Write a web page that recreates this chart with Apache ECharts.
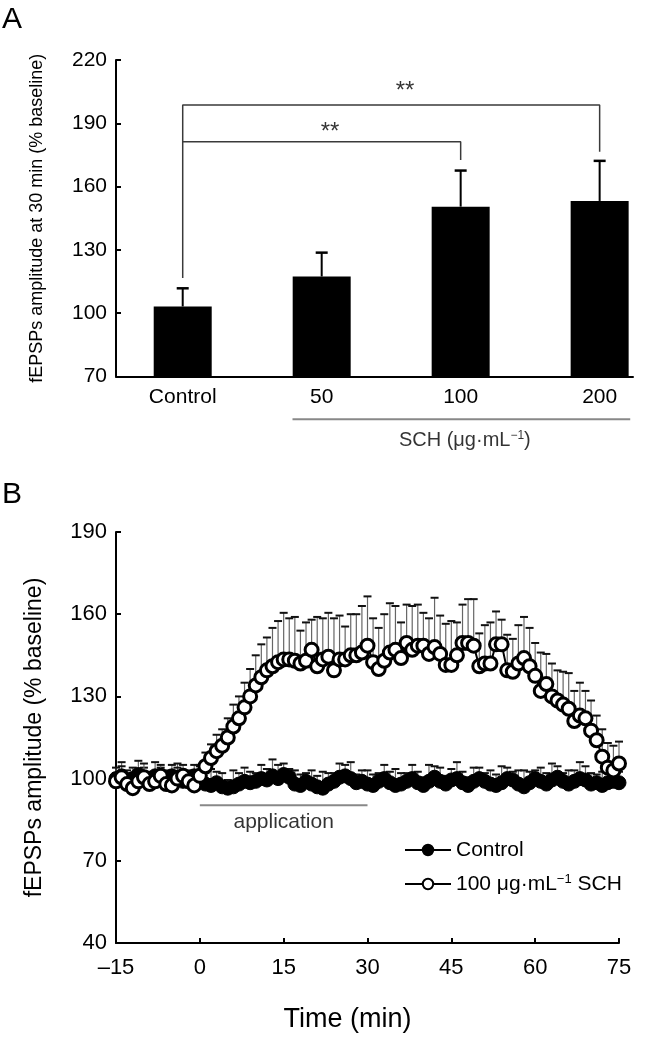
<!DOCTYPE html>
<html><head><meta charset="utf-8">
<script src="https://cdn.jsdelivr.net/npm/echarts@6/dist/echarts.min.js"></script>
<style>html,body{margin:0;padding:0;background:#fff}#c{width:670px;height:1040px}</style>
</head><body><div id="c"></div>
<script>
// ---------- Panel A data ----------
const barCats = ['Control', '50', '100', '200'];
const barMeans = [103.2, 117.4, 150.5, 153.2];
const barSD = [8.6, 11.3, 17.1, 19.0];
const yTicksA = [70, 100, 130, 160, 190, 220];
// significance brackets (category index, value)
const bracketOuter = [[0, 116.7], [0, 198.7], [3, 198.7], [3, 176.5]];
const bracketInner = [[0, 181.3], [2, 181.3], [2, 172.6]];
const starMarks = [[1.6, 205], [1.06, 185.5]];
const schGroupLine = [[0.79, 49.7], [3.22, 49.7]];
const schGroupLabel = [[2.03, 39.9]];

// ---------- Panel B data ----------
const timeMin = [-15,-14,-13,-12,-11,-10,-9,-8,-7,-6,-5,-4,-3,-2,-1,
  0,1,2,3,4,5,6,7,8,9,10,11,12,13,14,15,16,17,18,19,20,21,22,23,24,25,26,27,28,29,
  30,31,32,33,34,35,36,37,38,39,40,41,42,43,44,45,46,47,48,49,50,51,52,53,54,55,56,57,58,59,
  60,61,62,63,64,65,66,67,68,69,70,71,72,73,74,75];
const schMean = [99,100.5,98,96.5,99,100.5,98,99,101,98,97.5,100,101,99,97.5,
  101,104.5,107.5,110,112,115,119,122,126,130,
  134,137,139.5,141,142.5,143.5,143.5,143,142,143,
  147,141,143.5,144.5,139.5,143.5,143.5,145,145,146,
  148.5,142.5,140,143,146,147,144,149.5,147,148.5,
  148.5,145.5,148,145.5,141.5,141.5,145,149.5,149.5,148.5,
  141,142,142,149,149,139.5,139,142,144,141,
  137.5,132,134.5,130,128.5,127,125.5,121,123,122,
  117.5,114,108,104,103,105.5];
const schSD = [3,4,5,4,3,5,4,3,4,5,3,4,4,3,3,
  4,5,5,6,6,7,8,8,9,10,
  11,12,12,14,15,17,15,16,12,14,
  11,18,15,16,19,16,12,15,15,17,
  18,16,15,17,18,16,13,14,16,15,
  12,13,18,14,15,16,12,14,16,17,
  12,14,15,12,9,13,12,14,15,14,
  12,14,11,12,11,12,13,11,12,10,
  11,9,10,9,9,8];
const ctrlMean = [100,101,99,100,101.5,100,99.5,101,100,99,101,100.5,99,100,101,
  99.5,98,97.5,98.5,97,96.5,97,98,99,98.5,
  99,100,99.5,101,100,101.5,100.5,98,97.5,99,
  98,97,96.5,98,99,100.5,101,100,98.5,99,
  98,97.5,99,100,98.5,97.5,98,99,100,98.5,
  97.5,99,100.5,99,98,99.5,100,98.5,97.5,99,
  100,99,98,97.5,98.5,100,99.5,98,97,98.5,
  100,99,98,99.5,100.5,99,98,99,100,99.5,
  98,98.5,97.5,98.5,99,98.5];
const ctrlSD = [4,5,3,4,5,4,3,5,4,3,4,5,4,3,4,
  5,4,6,4,5,3,6,4,5,4,
  3,5,4,6,5,4,3,5,4,3,
  5,4,6,4,3,5,4,6,3,4,
  5,4,3,5,4,6,4,3,5,4,
  3,6,4,5,3,4,6,4,3,5,
  4,3,5,4,6,4,3,5,6,4,
  3,5,4,6,4,3,5,4,6,5,
  4,3,5,4,3,4];
const applicationLine = [[0, 90.3], [30, 90.3]];
const applicationLabel = [[15, 84.2]];

const FF = '"Liberation Sans", Arial, Helvetica, sans-serif';

function errRender(capHalf, lineColor, capColor, lw, capW) {
  return function (params, api) {
    const x = api.value(0), m = api.value(1), s = api.value(2);
    const p0 = api.coord([x, m]);
    const p1 = api.coord([x, m + s]);
    return {
      type: 'group',
      children: [
        { type: 'line', shape: { x1: p0[0], y1: p0[1], x2: p1[0], y2: p1[1] }, style: { stroke: lineColor, lineWidth: lw } },
        { type: 'line', shape: { x1: p1[0] - capHalf, y1: p1[1], x2: p1[0] + capHalf, y2: p1[1] }, style: { stroke: capColor, lineWidth: capW } }
      ]
    };
  };
}

const chart = echarts.init(document.getElementById('c'), null, { renderer: 'canvas' });
const axisLineStyle = { show: true, onZero: false, lineStyle: { color: '#000', width: 2 } };

const option = {
  animation: false,
  backgroundColor: '#fff',
  textStyle: { fontFamily: FF, color: '#000' },
  title: [
    { text: 'A', left: 2, top: 5, padding: 0, textStyle: { fontSize: 30, fontWeight: 'normal', color: '#000', fontFamily: FF } },
    { text: 'B', left: 2, top: 480, padding: 0, textStyle: { fontSize: 30, fontWeight: 'normal', color: '#000', fontFamily: FF } }
  ],
  legend: {
    data: ['Control', 'SCH'],
    orient: 'vertical',
    left: 399, top: 834,
    itemWidth: 46, itemHeight: 13, itemGap: 12,
    textStyle: {
      fontSize: 21, lineHeight: 22, color: '#000', fontFamily: FF,
      rich: { sup: { fontSize: 13, verticalAlign: 'top', lineHeight: 22, color: '#000', fontFamily: FF } }
    },
    formatter: function (n) { return n === 'SCH' ? '100 μg·mL{sup|−1} SCH' : n; }
  },
  grid: [
    { left: 116, right: 37, top: 60, bottom: 663.5 },
    { left: 116, right: 51, top: 532, bottom: 97 }
  ],
  xAxis: [
    {
      type: 'value', gridIndex: 0, min: -0.48, max: 3.24,
      axisLine: axisLineStyle, axisTick: { show: false }, splitLine: { show: false },
      axisLabel: {
        customValues: [0, 1, 2, 3],
        formatter: function (v) { return barCats[Math.round(v)]; },
        color: '#000', fontSize: 21, margin: 10, fontFamily: FF
      }
    },
    {
      type: 'value', gridIndex: 1, min: -15, max: 75, interval: 15,
      axisLine: axisLineStyle,
      axisTick: { show: true, inside: true, length: 5, lineStyle: { color: '#000', width: 2 } },
      splitLine: { show: false },
      axisLabel: {
        formatter: function (v) { return v < 0 ? '–' + (-v) : String(v); },
        color: '#000', fontSize: 22, margin: 14, fontFamily: FF
      },
      name: 'Time (min)', nameLocation: 'middle', nameGap: 63,
      nameTextStyle: { fontSize: 27, color: '#000', fontFamily: FF, padding: [0, 40, 0, 0] }
    }
  ],
  yAxis: [
    {
      type: 'value', gridIndex: 0, min: yTicksA[0], max: yTicksA[yTicksA.length - 1], interval: 30,
      axisLine: axisLineStyle,
      axisTick: { show: true, inside: true, length: 5, lineStyle: { color: '#000', width: 2 } },
      splitLine: { show: false },
      axisLabel: { color: '#000', fontSize: 21, margin: 9, fontFamily: FF },
      name: 'fEPSPs amplitude at 30 min (% baseline)', nameLocation: 'middle', nameGap: 70,
      nameTextStyle: { fontSize: 18, color: '#000', fontFamily: FF }
    },
    {
      type: 'value', gridIndex: 1, min: 40, max: 190, interval: 30,
      axisLine: axisLineStyle,
      axisTick: { show: true, inside: true, length: 5, lineStyle: { color: '#000', width: 2 } },
      splitLine: { show: false },
      axisLabel: { color: '#000', fontSize: 22, margin: 9, fontFamily: FF },
      name: 'fEPSPs amplitude (% baseline)', nameLocation: 'middle', nameGap: 70,
      nameTextStyle: { fontSize: 23, color: '#000', fontFamily: FF }
    }
  ],
  series: [
    {
      type: 'bar', name: 'barsA', xAxisIndex: 0, yAxisIndex: 0, barWidth: 58,
      itemStyle: { color: '#000' },
      data: barCats.map(function (c, i) { return [i, barMeans[i]]; })
    },
    {
      type: 'custom', name: 'errA', xAxisIndex: 0, yAxisIndex: 0, z: 3,
      renderItem: errRender(6, '#000', '#000', 2, 2.5),
      encode: { x: 0, y: 1 },
      data: barCats.map(function (c, i) { return [i, barMeans[i], barSD[i]]; })
    },
    {
      type: 'line', name: 'br1', xAxisIndex: 0, yAxisIndex: 0, symbol: 'none',
      lineStyle: { color: '#3a3a3a', width: 1.5 }, data: bracketOuter
    },
    {
      type: 'line', name: 'br2', xAxisIndex: 0, yAxisIndex: 0, symbol: 'none',
      lineStyle: { color: '#3a3a3a', width: 1.5 }, data: bracketInner
    },
    {
      type: 'scatter', name: 'stars', xAxisIndex: 0, yAxisIndex: 0, symbolSize: 0,
      label: { show: true, position: 'inside', formatter: '**', fontSize: 24, color: '#000', fontFamily: FF },
      data: starMarks
    },
    {
      type: 'line', name: 'schLine', xAxisIndex: 0, yAxisIndex: 0, symbol: 'none', clip: false,
      lineStyle: { color: '#888', width: 2 }, data: schGroupLine
    },
    {
      type: 'scatter', name: 'schLabel', xAxisIndex: 0, yAxisIndex: 0, symbolSize: 0, clip: false,
      label: {
        show: true, position: 'inside', color: '#000', fontSize: 20, fontFamily: FF,
        formatter: 'SCH (μg·mL{sup|−1})',
        rich: { sup: { fontSize: 12, verticalAlign: 'top', color: '#000', fontFamily: FF } }
      },
      data: schGroupLabel
    },
    {
      type: 'line', name: 'appLine', xAxisIndex: 1, yAxisIndex: 1, symbol: 'none',
      lineStyle: { color: '#888', width: 2 }, data: applicationLine
    },
    {
      type: 'scatter', name: 'appLabel', xAxisIndex: 1, yAxisIndex: 1, symbolSize: 0,
      label: { show: true, position: 'inside', formatter: 'application', fontSize: 21, color: '#000', fontFamily: FF },
      data: applicationLabel
    },
    {
      type: 'custom', name: 'errCtrl', xAxisIndex: 1, yAxisIndex: 1, z: 1,
      renderItem: errRender(4, '#666', '#111', 1.2, 2),
      encode: { x: 0, y: 1 },
      data: timeMin.map(function (t, i) { return [t, ctrlMean[i], ctrlSD[i]]; })
    },
    {
      type: 'custom', name: 'errSCH', xAxisIndex: 1, yAxisIndex: 1, z: 1,
      renderItem: errRender(4, '#666', '#111', 1.2, 2),
      encode: { x: 0, y: 1 },
      data: timeMin.map(function (t, i) { return [t, schMean[i], schSD[i]]; })
    },
    {
      type: 'line', name: 'Control', xAxisIndex: 1, yAxisIndex: 1, z: 3,
      symbol: 'circle', symbolSize: 14, showAllSymbol: true,
      itemStyle: { color: '#000', borderColor: '#000', borderWidth: 1 },
      lineStyle: { color: '#000', width: 2 },
      data: timeMin.map(function (t, i) { return [t, ctrlMean[i]]; })
    },
    {
      type: 'line', name: 'SCH', xAxisIndex: 1, yAxisIndex: 1, z: 4,
      symbol: 'circle', symbolSize: 13, showAllSymbol: true,
      itemStyle: { color: '#fff', borderColor: '#000', borderWidth: 3 },
      lineStyle: { color: '#000', width: 2 },
      data: timeMin.map(function (t, i) { return [t, schMean[i]]; })
    }
  ]
};
chart.setOption(option);
</script>
</body></html>
